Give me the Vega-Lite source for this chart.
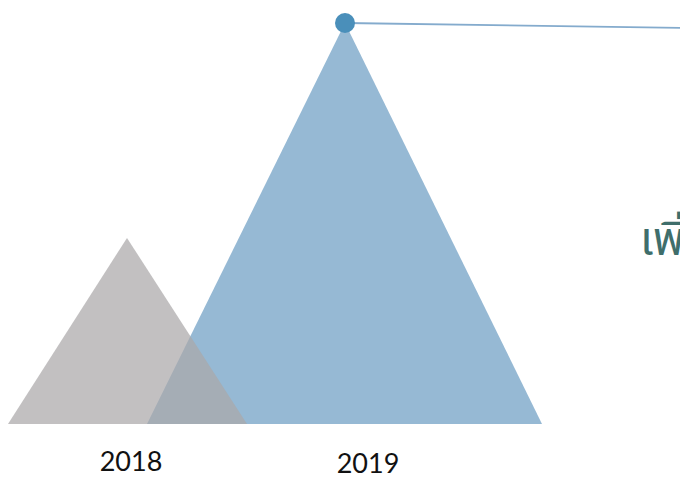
{
  "$schema": "https://vega.github.io/schema/vega-lite/v6.json",
  "width": 680,
  "height": 478,
  "autosize": {"type": "none"},
  "padding": 0,
  "background": "white",
  "config": {"view": {"stroke": null}},
  "datasets": {
    "mountains": [
      {"year": "2019", "x": 147, "v": 0},
      {"year": "2019", "x": 345, "v": 100},
      {"year": "2019", "x": 542, "v": 0},
      {"year": "2018", "x": 8, "v": 0},
      {"year": "2018", "x": 127, "v": 46.4},
      {"year": "2018", "x": 247, "v": 0}
    ],
    "leader": [
      {"x": 345, "v": 100},
      {"x": 680, "v": 98.8}
    ],
    "labels": [
      {"year": "2018", "x": 131, "v": -9.7},
      {"year": "2019", "x": 368, "v": -10.2}
    ],
    "note": [
      {"label": "เพิ่มขึ้น", "x": 640, "v": 42.1}
    ]
  },
  "resolve": {"scale": {"x": "shared", "y": "shared"}},
  "encoding": {
    "x": {"field": "x", "type": "quantitative", "scale": {"domain": [0, 680], "nice": false, "zero": false}, "axis": null},
    "y": {"field": "v", "type": "quantitative", "scale": {"domain": [0, 100], "range": [424, 23], "nice": false}, "axis": null}
  },
  "layer": [
    {
      "data": {"name": "mountains"},
      "transform": [{"filter": "datum.year == '2019'"}],
      "mark": {"type": "area", "color": "#96b9d4", "interpolate": "linear"}
    },
    {
      "data": {"name": "mountains"},
      "transform": [{"filter": "datum.year == '2018'"}],
      "mark": {"type": "area", "color": "#aaa8a9", "opacity": 0.72, "interpolate": "linear"}
    },
    {
      "data": {"name": "leader"},
      "mark": {"type": "line", "color": "#84abcd", "strokeWidth": 1.8}
    },
    {
      "data": {"name": "leader"},
      "transform": [{"filter": "datum.x == 345"}],
      "mark": {"type": "point", "filled": true, "color": "#4a8fba", "opacity": 1, "size": 400}
    },
    {
      "data": {"name": "labels"},
      "mark": {"type": "text", "font": "Lato", "fontSize": 27, "color": "#111111", "baseline": "middle", "align": "center"},
      "encoding": {"text": {"field": "year"}}
    },
    {
      "data": {"name": "note"},
      "mark": {"type": "text", "font": "Noto Sans Thai, Noto Sans Thai UI, Noto Sans", "fontSize": 46, "color": "#3f6e6b", "baseline": "alphabetic", "align": "left"},
      "encoding": {"text": {"field": "label"}}
    }
  ]
}
